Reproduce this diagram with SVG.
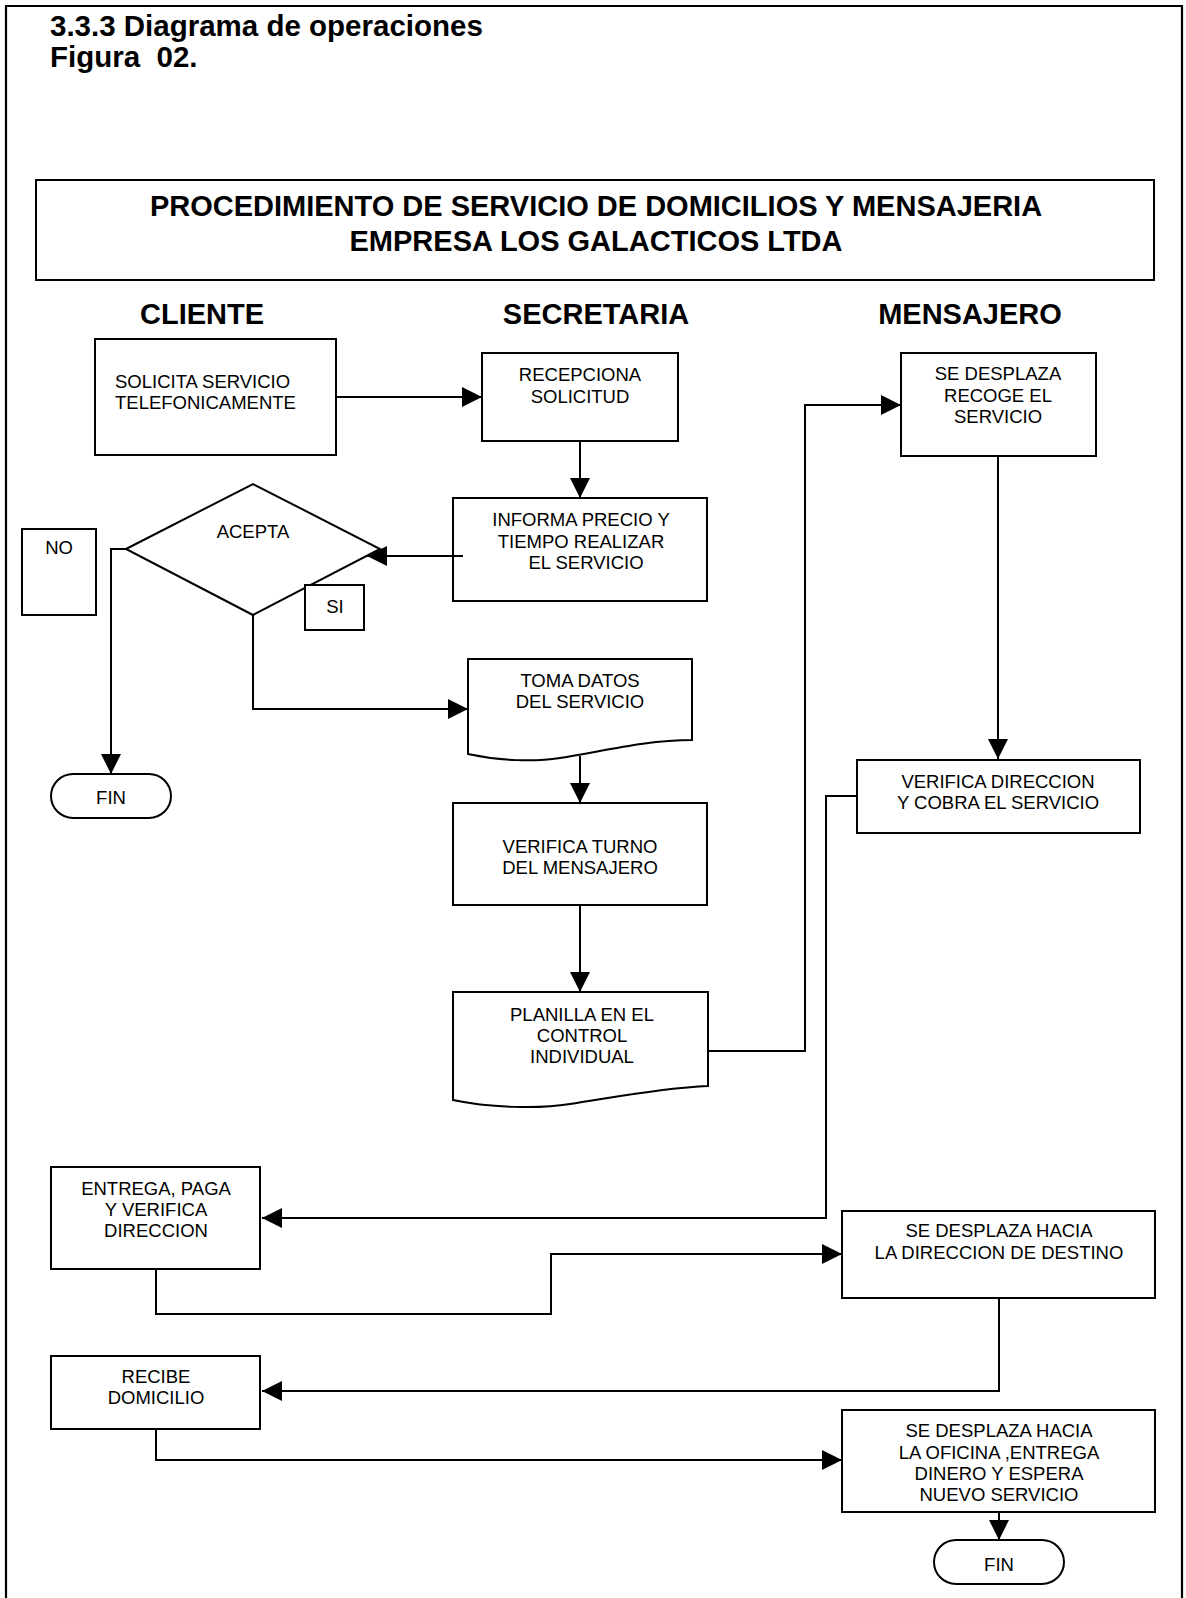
<svg xmlns="http://www.w3.org/2000/svg" width="1186" height="1598" viewBox="0 0 1186 1598">
<style>
.bx{fill:#fff;stroke:#000;stroke-width:2}
.ln{fill:none;stroke:#000;stroke-width:2}
.t{font-family:"Liberation Sans",Arial,sans-serif;font-size:18.5px;fill:#000;text-anchor:middle}
.tl{text-anchor:start}
.h{font-family:"Liberation Sans",Arial,sans-serif;font-size:29px;font-weight:bold;fill:#000}
.c{text-anchor:middle}
</style>
<defs>
<marker id="ar" markerUnits="userSpaceOnUse" markerWidth="20" markerHeight="20" viewBox="0 0 20 20" refX="20" refY="10" orient="auto">
<path d="M0,0 L20,10 L0,20 Z" fill="#000"/>
</marker>
</defs>
<rect width="1186" height="1598" fill="#fff"/>
<path d="M6,1600 V6 H1182 V1600" fill="none" stroke="#000" stroke-width="2.2"/>
<text class="h" x="50" y="36" style="font-size:29.5px">3.3.3 Diagrama de operaciones</text>
<text class="h" x="50" y="67" style="font-size:29.5px;white-space:pre">Figura  02.</text>
<g id="header">
<rect class="bx" x="36" y="180" width="1118" height="100"/>
<text class="h c" x="596" y="216">PROCEDIMIENTO DE SERVICIO DE DOMICILIOS Y MENSAJERIA</text>
<text class="h c" x="596" y="251">EMPRESA LOS GALACTICOS LTDA</text>
</g>
<g id="lanes">
<text class="h c" x="202" y="324">CLIENTE</text>
<text class="h c" x="596" y="324">SECRETARIA</text>
<text class="h c" x="970" y="324">MENSAJERO</text>
</g>
<g id="solicita">
<rect class="bx" x="95" y="339" width="241" height="116"/>
<text class="t tl" x="115" y="388">SOLICITA SERVICIO</text>
<text class="t tl" x="115" y="409">TELEFONICAMENTE</text>
</g>
<g id="recepciona">
<rect class="bx" x="482" y="353" width="196" height="88"/>
<text class="t" x="580" y="381">RECEPCIONA</text>
<text class="t" x="580" y="403">SOLICITUD</text>
</g>
<g id="informa">
<rect class="bx" x="453" y="498" width="254" height="103"/>
<text class="t" x="581" y="526">INFORMA PRECIO Y</text>
<text class="t" x="581" y="548">TIEMPO REALIZAR</text>
<text class="t" x="586" y="569">EL SERVICIO</text>
</g>
<g id="acepta">
<path class="bx" d="M126,549 L253,484 L380,549 L253,615 Z"/>
<text class="t" x="253" y="538">ACEPTA</text>
</g>
<g id="no">
<rect class="bx" x="22" y="529" width="74" height="86"/>
<text class="t" x="59" y="554">NO</text>
</g>
<g id="si">
<rect class="bx" x="305" y="585" width="59" height="45"/>
<text class="t" x="335" y="613">SI</text>
</g>
<g id="fin1">
<rect class="bx" x="51" y="774" width="120" height="44" rx="22"/>
<text class="t" x="111" y="804">FIN</text>
</g>
<g id="toma">
<path class="bx" d="M468,659 H692 V740 C645,740 600,752 560,758 C535,762 500,761 468,754 Z"/>
<text class="t" x="580" y="687">TOMA DATOS</text>
<text class="t" x="580" y="708">DEL SERVICIO</text>
</g>
<g id="turno">
<rect class="bx" x="453" y="803" width="254" height="102"/>
<text class="t" x="580" y="853">VERIFICA TURNO</text>
<text class="t" x="580" y="874">DEL MENSAJERO</text>
</g>
<g id="planilla">
<path class="bx" d="M453,992 H708 V1086 C660,1088 610,1098 570,1104 C540,1109 490,1108 453,1100 Z"/>
<text class="t" x="582" y="1021">PLANILLA EN EL</text>
<text class="t" x="582" y="1042">CONTROL</text>
<text class="t" x="582" y="1063">INDIVIDUAL</text>
</g>
<g id="recoge">
<rect class="bx" x="901" y="353" width="195" height="103"/>
<text class="t" x="998" y="380">SE DESPLAZA</text>
<text class="t" x="998" y="402">RECOGE EL</text>
<text class="t" x="998" y="423">SERVICIO</text>
</g>
<g id="cobra">
<rect class="bx" x="857" y="760" width="283" height="73"/>
<text class="t" x="998" y="788">VERIFICA DIRECCION</text>
<text class="t" x="998" y="809">Y COBRA EL SERVICIO</text>
</g>
<g id="entrega">
<rect class="bx" x="51" y="1167" width="209" height="102"/>
<text class="t" x="156" y="1195">ENTREGA, PAGA</text>
<text class="t" x="156" y="1216">Y VERIFICA</text>
<text class="t" x="156" y="1237">DIRECCION</text>
</g>
<g id="destino">
<rect class="bx" x="842" y="1211" width="313" height="87"/>
<text class="t" x="999" y="1237">SE DESPLAZA HACIA</text>
<text class="t" x="999" y="1259">LA DIRECCION DE DESTINO</text>
</g>
<g id="recibe">
<rect class="bx" x="51" y="1356" width="209" height="73"/>
<text class="t" x="156" y="1383">RECIBE</text>
<text class="t" x="156" y="1404">DOMICILIO</text>
</g>
<g id="oficina">
<rect class="bx" x="842" y="1410" width="313" height="102"/>
<text class="t" x="999" y="1437">SE DESPLAZA HACIA</text>
<text class="t" x="999" y="1459">LA OFICINA ,ENTREGA</text>
<text class="t" x="999" y="1480">DINERO Y ESPERA</text>
<text class="t" x="999" y="1501">NUEVO SERVICIO</text>
</g>
<g id="fin2">
<rect class="bx" x="934" y="1540" width="130" height="44" rx="22"/>
<text class="t" x="999" y="1571">FIN</text>
</g>
<g id="connectors">
<path class="ln" d="M336,397 H482" marker-end="url(#ar)"/>
<path class="ln" d="M580,441 V498" marker-end="url(#ar)"/>
<path class="ln" d="M463,556 H367" marker-end="url(#ar)"/>
<path class="ln" d="M126,549 H111 V774" marker-end="url(#ar)"/>
<path class="ln" d="M253,615 V709 H468" marker-end="url(#ar)"/>
<path class="ln" d="M580,756 V803" marker-end="url(#ar)"/>
<path class="ln" d="M580,905 V992" marker-end="url(#ar)"/>
<path class="ln" d="M708,1051 H805 V405 H901" marker-end="url(#ar)"/>
<path class="ln" d="M998,456 V759" marker-end="url(#ar)"/>
<path class="ln" d="M857,796 H826 V1218 H262" marker-end="url(#ar)"/>
<path class="ln" d="M156,1269 V1314 H551 V1254 H842" marker-end="url(#ar)"/>
<path class="ln" d="M999,1298 V1391 H262" marker-end="url(#ar)"/>
<path class="ln" d="M156,1429 V1460 H842" marker-end="url(#ar)"/>
<path class="ln" d="M999,1512 V1540" marker-end="url(#ar)"/>
</g>
</svg>
